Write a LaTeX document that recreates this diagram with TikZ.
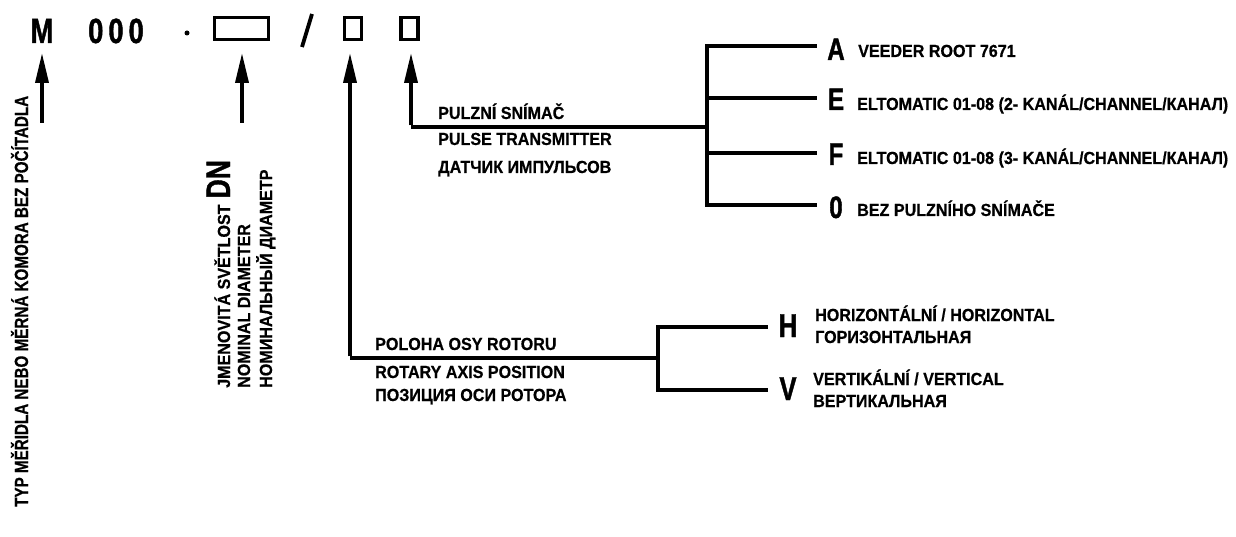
\documentclass[tikz,border=0pt]{standalone}
\usepackage{fontspec}
\setmainfont{Liberation Sans}
\newfontfamily\bigf{Liberation Sans}[FakeStretch=0.78,FakeBold=1.2]
\newfontfamily\labf{Liberation Sans}[FakeStretch=0.92,FakeBold=0.6]
\newfontfamily\typf{Liberation Sans}[FakeStretch=0.8,FakeBold=0.6]
\usetikzlibrary{arrows.meta}
\begin{document}
\begin{tikzpicture}[x=1pt,y=-1pt,
  line/.style={line width=3.4pt},
  arr/.style={line width=3.6pt,-{Triangle[length=30pt,width=13pt]}},
  head/.style={inner sep=0pt,font=\bigf\bfseries\fontsize{35}{35}\selectfont},
  opt/.style={inner sep=0pt,anchor=base,font=\bigf\bfseries\fontsize{31}{31}\selectfont},
  lab/.style={inner sep=0pt,anchor=base west,font=\labf\bfseries\fontsize{17.5}{17.5}\selectfont},
  box/.style={draw,line width=3.2pt,inner sep=0pt}]
\useasboundingbox (0,0) rectangle (1236,537);

% code header
\node[head,anchor=base] (m) at (42,43) {M};
\node[head,anchor=base] (zeros) at (116,43) {0\hspace{5pt}0\hspace{5pt}0};
\node[circle,fill,inner sep=0pt,minimum size=5pt] (dot) at (187,33) {};
\node[box,minimum width=54pt,minimum height=22pt] (dnbox) at (241.5,28.5) {};
\coordinate (sl1) at (312,14);
\coordinate (sl2) at (302,47);
\draw[line width=3.8pt] (sl1) -- (sl2);
\node[box,minimum width=17pt,minimum height=22pt] (b1) at (353,28.5) {};
\node[box,minimum width=17pt,minimum height=22pt] (b2) at (409.5,28.5) {};

% pointers to the code positions
\coordinate (tm) at (42,53);
\coordinate (fm) at (42,123);
\draw[arr] (fm) -- (tm);
\coordinate (tdn) at (242,53);
\coordinate (fdn) at (242,123);
\draw[arr] (fdn) -- (tdn);
\coordinate (tb1) at (350,53);
\coordinate (fb1) at (350,358);
\coordinate (tb2) at (411,53);
\coordinate (fb2) at (411,127);

% type of meter
\node[lab,rotate=90,font=\typf\bfseries\fontsize{19}{19}\selectfont] (typ) at (28,507)
  {TYP MĚŘIDLA NEBO MĚRNÁ KOMORA BEZ POČÍTADLA};

% nominal diameter
\node[lab,rotate=90] (dn1) at (230,388)
  {JMENOVITÁ SVĚTLOST\hspace{6pt}{\bigf\fontsize{34}{34}\selectfont DN}};
\node[lab,rotate=90] (dn2) at (250,388) {NOMINAL DIAMETER};
\node[lab,rotate=90] (dn3) at (272,388) {НОМИНАЛЬНЫЙ ДИАМЕТР};

% pulse transmitter branch
\coordinate (pj) at (707,127);
\coordinate (pt) at (707,46);
\coordinate (pb) at (707,205);
\draw[line] (fb2) -- (pj);
\draw[arr] ([yshift=1.7pt]fb2) -- (tb2);
\draw[line] (pt) -- (pb);
\coordinate (pa) at (817,46);
\coordinate (pe) at (817,98);
\coordinate (pf) at (817,153);
\coordinate (po) at (817,205);
\coordinate (pe0) at (707,98);
\coordinate (pf0) at (707,153);
\draw[line] ([xshift=-1.7pt]pt) -- (pa);
\draw[line] (pe0) -- (pe);
\draw[line] (pf0) -- (pf);
\draw[line] ([xshift=-1.7pt]pb) -- (po);
\node[lab] (p1) at (438,119) {PULZNÍ SNÍMAČ};
\node[lab] (p2) at (438,145) {PULSE TRANSMITTER};
\node[lab] (p3) at (438,173) {ДАТЧИК ИМПУЛЬСОВ};

\node[opt] (oa) at (836,60) {A};
\node[opt] (oe) at (836,110) {E};
\node[opt] (of) at (836,165) {F};
\node[opt] (oo) at (836,218) {0};
\node[lab] (ta) at (858,57) {VEEDER ROOT 7671};
\node[lab] (te) at (857,110) {ELTOMATIC 01-08 (2- KANÁL/CHANNEL/КАНАЛ)};
\node[lab] (tf) at (857,164) {ELTOMATIC 01-08 (3- KANÁL/CHANNEL/КАНАЛ)};
\node[lab] (to) at (857,216) {BEZ PULZNÍHO SNÍMAČE};

% rotor axis branch
\coordinate (rj) at (658,358);
\coordinate (rt) at (658,327);
\coordinate (rb) at (658,390);
\draw[line] (fb1) -- (rj);
\draw[arr] ([yshift=1.7pt]fb1) -- (tb1);
\draw[line] (rt) -- (rb);
\coordinate (rh) at (768,327);
\coordinate (rv) at (768,390);
\draw[line] ([xshift=-1.7pt]rt) -- (rh);
\draw[line] ([xshift=-1.7pt]rb) -- (rv);
\node[lab] (r1) at (375,350) {POLOHA OSY ROTORU};
\node[lab] (r2) at (375,378) {ROTARY AXIS POSITION};
\node[lab] (r3) at (375,401) {ПОЗИЦИЯ ОСИ РОТОРА};

\node[opt,font=\bigf\bfseries\fontsize{33}{33}\selectfont] (oh) at (788,337) {H};
\node[opt,font=\bigf\bfseries\fontsize{33}{33}\selectfont] (ov) at (788,400) {V};
\node[lab] (th1) at (815,321) {HORIZONTÁLNÍ / HORIZONTAL};
\node[lab] (th2) at (815,343) {ГОРИЗОНТАЛЬНАЯ};
\node[lab] (tv1) at (813,385) {VERTIKÁLNÍ / VERTICAL};
\node[lab] (tv2) at (813,407) {ВЕРТИКАЛЬНАЯ};
\end{tikzpicture}
\end{document}
